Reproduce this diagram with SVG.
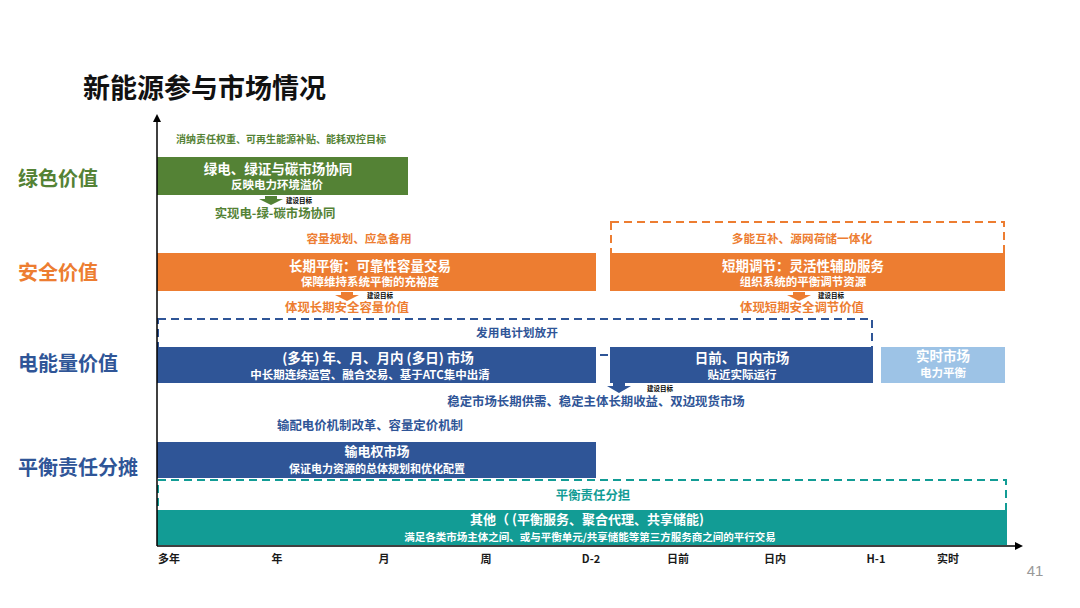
<svg xmlns="http://www.w3.org/2000/svg" width="1080" height="608" viewBox="0 0 1080 608">
<style>
text{font-family:"Noto Sans CJK SC","Liberation Sans",sans-serif;font-weight:bold;text-anchor:middle}
.t1{font-size:13.5px;fill:#fff}
.t2{font-size:11.5px;fill:#fff}
.lab{font-size:20px;text-anchor:start}
.g{fill:#548235}.o{fill:#ED7D31}.b{fill:#2F5597}.tl{fill:#129C95}
.note{font-size:11.7px}
.big{font-size:12.4px}
.goal{font-size:6.5px;fill:#000;text-anchor:start}
.ax{font-size:11px;fill:#1a1a1a}
.dash{fill:#fff;stroke-width:2;stroke-dasharray:8 5}
</style>
<defs>
<marker id="ah" markerWidth="8" markerHeight="8" refX="6" refY="4" orient="auto" markerUnits="userSpaceOnUse"><path d="M0,0 L8,4 L0,8 Z" fill="#000"/></marker>
</defs>
<rect width="1080" height="608" fill="#fff"/>
<text x="83" y="98" style="font-size:27px;text-anchor:start;fill:#111">新能源参与市场情况</text>

<g id="labels">
<text class="lab g" x="18" y="186">绿色价值</text>
<text class="lab o" x="18" y="280">安全价值</text>
<text class="lab b" x="18" y="371">电能量价值</text>
<text class="lab b" x="18" y="475">平衡责任分摊</text>
</g>

<g id="green">
<text class="g" x="281" y="143" style="font-size:10px">消纳责任权重、可再生能源补贴、能耗双控目标</text>
<rect x="157" y="157" width="251" height="38" fill="#548235"/>
<text class="t1" x="278" y="174">绿电、绿证与碳市场协同</text>
<text class="t2" x="277" y="189">反映电力环境溢价</text>
<path d="M265,196 h12 v3 h6 l-12,6 l-12,-6 h6 z" fill="#548235"/>
<text class="goal" x="286" y="203">建设目标</text>
<text class="big g" x="275" y="218">实现电-绿-碳市场协同</text>
</g>

<g id="safety-long">
<text class="note o" x="359" y="243">容量规划、应急备用</text>
<rect x="157" y="253" width="439" height="38" fill="#ED7D31"/>
<text class="t1" x="370" y="271">长期平衡：可靠性容量交易</text>
<text class="t2" x="370" y="286">保障维持系统平衡的充裕度</text>
<path d="M341,292 h12 v3 h6 l-12,6 l-12,-6 h6 z" fill="#ED7D31"/>
<text class="goal" x="367" y="298">建设目标</text>
<text class="big o" x="347" y="312">体现长期安全容量价值</text>
</g>

<g id="safety-short">
<rect class="dash" x="611" y="222" width="393" height="40" stroke="#ED7D31"/>
<text class="note o" x="802" y="243">多能互补、源网荷储一体化</text>
<rect x="610" y="253" width="395" height="38" fill="#ED7D31"/>
<text class="t1" x="803" y="271">短期调节：灵活性辅助服务</text>
<text class="t2" x="803" y="286">组织系统的平衡调节资源</text>
<path d="M793,292 h12 v3 h6 l-12,6 l-12,-6 h6 z" fill="#ED7D31"/>
<text class="goal" x="818" y="298">建设目标</text>
<text class="big o" x="802" y="312">体现短期安全调节价值</text>
</g>

<g id="energy">
<rect class="dash" x="158" y="319" width="714" height="36" stroke="#2F5597"/>
<text class="note b" x="517" y="337">发用电计划放开</text>
<rect x="157" y="347" width="439" height="36" fill="#2F5597"/>
<text class="t1" x="378" y="363">(多年) 年、月、月内 (多日) 市场</text>
<text class="t2" x="370" y="379">中长期连续运营、融合交易、基于ATC集中出清</text>
<rect x="610" y="347" width="263" height="36" fill="#2F5597"/>
<text class="t1" x="742" y="363">日前、日内市场</text>
<text class="t2" x="742" y="379">贴近实际运行</text>
<rect x="881" y="347" width="124" height="36" fill="#9DC3E6"/>
<text class="t1" x="943" y="361">实时市场</text>
<text class="t2" x="943" y="377">电力平衡</text>
<path d="M613,383 h12 v3 h6 l-12,7 l-12,-7 h6 z" fill="#2F5597"/>
<text class="goal" x="647" y="391">建设目标</text>
<text class="big b" x="596" y="406">稳定市场长期供需、稳定主体长期收益、双边现货市场</text>
</g>

<g id="balance">
<text class="big b" x="370" y="430">输配电价机制改革、容量定价机制</text>
<rect x="157" y="442" width="439" height="36" fill="#2F5597"/>
<text class="t1" x="377" y="456" style="font-size:13px">输电权市场</text>
<text class="t2" x="377" y="473" style="font-size:11px">保证电力资源的总体规划和优化配置</text>
<rect class="dash" x="158" y="480" width="848" height="36" stroke="#129C95"/>
<text class="big tl" x="593" y="500">平衡责任分担</text>
<rect x="157" y="510" width="850" height="35" fill="#129C95"/>
<text class="t1" x="587" y="524" style="font-size:13px">其他（ (平衡服务、聚合代理、共享储能)</text>
<text class="t2" x="590" y="541" style="font-size:10.5px">满足各类市场主体之间、或与平衡单元/共享储能等第三方服务商之间的平行交易</text>
</g>

<g id="connectors" stroke="#000" stroke-width="1.5" fill="none">
<line x1="157" y1="546" x2="157" y2="116" marker-end="url(#ah)"/>
<line x1="157" y1="546" x2="1021" y2="546" marker-end="url(#ah)"/>
</g>

<g id="axis-labels">
<text class="ax" x="169" y="563">多年</text>
<text class="ax" x="277" y="563">年</text>
<text class="ax" x="384" y="563">月</text>
<text class="ax" x="486" y="563">周</text>
<text class="ax" x="591" y="563">D-2</text>
<text class="ax" x="678" y="563">日前</text>
<text class="ax" x="775" y="563">日内</text>
<text class="ax" x="876" y="563">H-1</text>
<text class="ax" x="948" y="563">实时</text>
</g>
<text x="1035" y="576" style="font-family:'Liberation Sans',sans-serif;font-weight:normal;font-size:15px;fill:#999">41</text>
</svg>
